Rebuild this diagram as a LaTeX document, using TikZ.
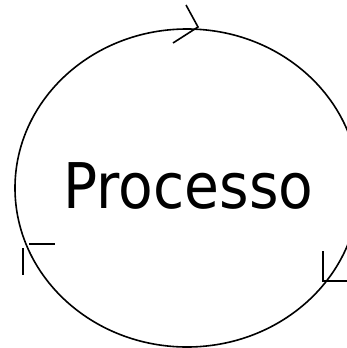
\documentclass[tikz,border=0pt]{standalone}
\usepackage{fontspec}
\setmainfont{DejaVu Sans Condensed}
\usetikzlibrary{shapes.geometric}
\tikzset{
  ring/.style={draw=black, line width=1.6pt, ellipse, minimum width=344pt, minimum height=318pt, inner sep=0pt},
  label text/.style={font=\fontsize{63}{70}\selectfont, inner sep=0pt, anchor=base},
  chev/.style={draw=black, line width=1.6pt}
}
\begin{document}
\begin{tikzpicture}[x=1pt, y=-1pt]
\clip (0,0) rectangle (347,348);
\useasboundingbox (0,0) rectangle (347,348);
\node[ring] (proc) at (187,188) {};
\node[label text] (lbl) at (188.5,208) {Processo};
% top arrowhead
\coordinate (t0) at (186,5);
\coordinate (t1) at (198,27);
\coordinate (t2) at (173,43);
\draw[chev] (t0) -- (t1) -- (t2);
% left arrowhead
\coordinate (l1) at (29,244);
\coordinate (l2) at (55,244);
\coordinate (l3) at (23,248);
\coordinate (l4) at (23,275);
\draw[chev] (l1) -- (l2);
\draw[chev] (l3) -- (l4);
% right-bottom arrowhead
\coordinate (r1) at (323,251);
\coordinate (r2) at (323,281);
\coordinate (r3) at (347,281);
\draw[chev] (r1) -- (r2) -- (r3);
\end{tikzpicture}
\end{document}
